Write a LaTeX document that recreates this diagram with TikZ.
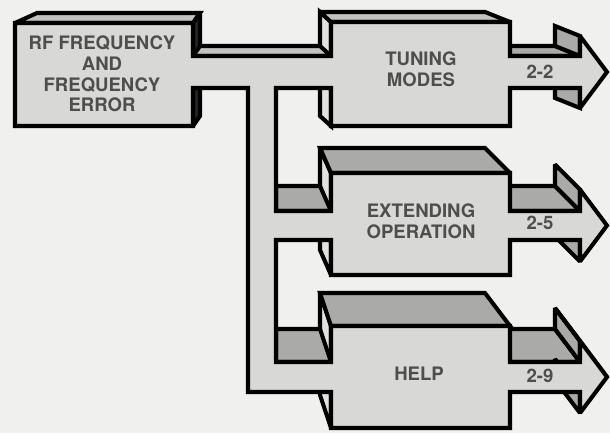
\documentclass[tikz,border=0pt]{standalone}
\usepackage{fontspec}
\setsansfont{TeX Gyre Heros}
\usepackage{tikz}
\usetikzlibrary{positioning}
\definecolor{paper}{RGB}{240,240,238}
\definecolor{frontgray}{RGB}{216,216,214}
\definecolor{topgray}{RGB}{170,170,168}
\definecolor{lighttop}{RGB}{194,194,192}
\definecolor{sidegray}{RGB}{226,226,224}
\definecolor{inkgray}{RGB}{78,78,78}

\begin{document}
\begin{tikzpicture}[x=0.025cm, y=-0.025cm,
    face/.style={draw=black, line width=2.9pt, miter limit=2.5},
    boxtext/.style={font=\sffamily\bfseries\fontsize{13.2}{14.8}\selectfont, text=inkgray, align=center},
    pagenum/.style={font=\sffamily\bfseries\fontsize{13.2}{15}\selectfont, text=inkgray}]
        % Paper
        \fill [paper] (0,0) rectangle (610,433);
        \useasboundingbox (0,0) rectangle (610,433);

        % Source block: top and right faces
        \draw [face, fill=lighttop] (15,23) -- (37,13) -- (200,13) -- (193,23) -- cycle;
        \draw [face, fill=black!85] (193,23) -- (200,13) -- (200,116) -- (193,126) -- cycle;

        % Target blocks, shafts and heads: side faces
        \foreach \ytop/\ybot/\dep/\sta/\sbo/\tcol in {22/126/10/56/88/lighttop, 173/275/25/211/240/topgray, 326/428/33/362/392/topgray} {
            \pgfmathsetmacro\ymid{(\sta+\sbo)/2}
            \draw [face, fill=sidegray] (331,\ytop) -- (320,\ytop-\dep) -- (320,\ybot-\dep) -- (331,\ybot) -- cycle;
            \draw [face, fill=\tcol] (331,\ytop) -- (320,\ytop-\dep) -- (485,\ytop-\dep) -- (510,\ytop) -- cycle;
            \draw [face, fill=topgray] (485,\sta-\dep) -- (555,\sta-\dep) -- (580,\sta) -- (510,\sta) -- cycle;
            \draw [face, fill=topgray] (555,\sta-\dep) -- (555,\ymid-36-\dep) -- (580,\ymid-36) -- (580,\sta) -- cycle;
            \draw [face, fill=topgray] (555,\sbo-\dep) -- (555,\ymid+36-\dep) -- (580,\ymid+36) -- (580,\sbo) -- cycle;
        }
        \draw [face, fill=topgray] (555,308) -- (580,341) -- (607,377) -- (582,344) -- cycle;

        % Bus: top faces of trunk and branches
        \draw [face, fill=lighttop] (193,56) -- (200,46) -- (320,46) -- (331,56) -- cycle;
        \draw [face, fill=topgray] (276,211) -- (276,186) -- (320,186) -- (331,211) -- cycle;
        \draw [face, fill=topgray] (276,362) -- (276,329) -- (320,329) -- (331,362) -- cycle;

        % Front faces in one piece
        \draw [face, fill=frontgray] (15,23) -- (193,23) -- (193,56) -- (331,56) -- (331,22)
            -- (510,22) -- (510,56) -- (580,56) -- (580,36) -- (607,72) -- (580,108) -- (580,88)
            -- (510,88) -- (510,126) -- (331,126) -- (331,88) -- (276,88)
            -- (276,211) -- (331,211) -- (331,173)
            -- (510,173) -- (510,211) -- (580,211) -- (580,189.5) -- (607,225.5) -- (580,261.5) -- (580,240)
            -- (510,240) -- (510,275) -- (331,275) -- (331,240) -- (276,240)
            -- (276,362) -- (331,362) -- (331,326)
            -- (510,326) -- (510,362) -- (580,362) -- (580,341) -- (607,377) -- (580,413) -- (580,392)
            -- (510,392) -- (510,428) -- (331,428) -- (331,392)
            -- (248,392) -- (248,88) -- (193,88) -- (193,126) -- (15,126) -- cycle;

        % Labels
        \node [boxtext] (source) at (102,74) {RF FREQUENCY\\AND\\FREQUENCY\\ERROR};
        \node [boxtext] (tuning) at (421,69) {TUNING\\MODES};
        \node [boxtext] (extending) at (421,221) {EXTENDING\\OPERATION};
        \node [boxtext] (help) at (419,374) {HELP};
        \node [pagenum] (p22) at (540,72) {2-2};
        \node [pagenum] (p25) at (540,223) {2-5};
        \node [pagenum] (p29) at (540,376) {2-9};
    \end{tikzpicture}
\end{document}
